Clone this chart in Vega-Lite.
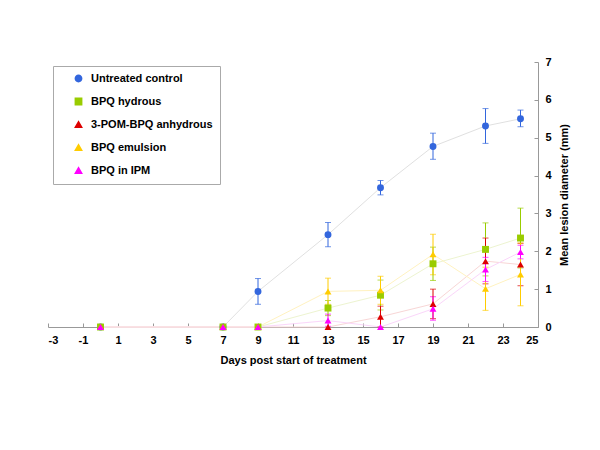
{
  "$schema": "https://vega.github.io/schema/vega-lite/v6.json",
  "autosize": {"type": "none"},
  "width": 490,
  "height": 265,
  "padding": {"left": 48, "top": 62, "right": 62, "bottom": 123},
  "background": "white",
  "config": {
    "font": "Liberation Sans",
    "view": {"stroke": null},
    "axis": {
      "domainColor": "#999999",
      "tickColor": "#999999",
      "grid": false,
      "labelFont": "Liberation Sans",
      "labelFontWeight": "bold",
      "labelFontSize": 11,
      "labelColor": "black",
      "labelOverlap": false,
      "titleFont": "Liberation Sans",
      "titleFontWeight": "bold",
      "titleFontSize": 11,
      "titleColor": "black"
    },
    "legend": {
      "orient": "none",
      "legendX": 5,
      "legendY": 4,
      "strokeColor": "#aaaaaa",
      "fillColor": "white",
      "padding": 7,
      "symbolOffset": 13,
      "labelOffset": 7,
      "labelFont": "Liberation Sans",
      "labelFontWeight": "bold",
      "labelFontSize": 11,
      "labelColor": "black",
      "rowPadding": 10,
      "symbolSize": 40,
      "symbolOpacity": 1,
      "labelLimit": 200
    }
  },
  "data": {
    "values": [
      {"series": "Untreated control", "day": 0, "mean": 0},
      {"series": "Untreated control", "day": 7, "mean": 0},
      {"series": "Untreated control", "day": 9, "mean": 0.94, "lo": 0.6, "hi": 1.28},
      {"series": "Untreated control", "day": 13, "mean": 2.44, "lo": 2.12, "hi": 2.76},
      {"series": "Untreated control", "day": 16, "mean": 3.68, "lo": 3.49, "hi": 3.87},
      {"series": "Untreated control", "day": 19, "mean": 4.77, "lo": 4.43, "hi": 5.12},
      {"series": "Untreated control", "day": 22, "mean": 5.31, "lo": 4.85, "hi": 5.77},
      {"series": "Untreated control", "day": 24, "mean": 5.5, "lo": 5.29, "hi": 5.73},
      {"series": "BPQ hydrous", "day": 0, "mean": 0},
      {"series": "BPQ hydrous", "day": 7, "mean": 0},
      {"series": "BPQ hydrous", "day": 9, "mean": 0},
      {"series": "BPQ hydrous", "day": 13, "mean": 0.5, "lo": 0.3, "hi": 0.7},
      {"series": "BPQ hydrous", "day": 16, "mean": 0.84, "lo": 0.45, "hi": 1.24},
      {"series": "BPQ hydrous", "day": 19, "mean": 1.67, "lo": 1.23, "hi": 2.11},
      {"series": "BPQ hydrous", "day": 22, "mean": 2.05, "lo": 1.35, "hi": 2.75},
      {"series": "BPQ hydrous", "day": 24, "mean": 2.35, "lo": 1.56, "hi": 3.14},
      {"series": "3-POM-BPQ anhydrous", "day": 0, "mean": 0},
      {"series": "3-POM-BPQ anhydrous", "day": 7, "mean": 0},
      {"series": "3-POM-BPQ anhydrous", "day": 9, "mean": 0},
      {"series": "3-POM-BPQ anhydrous", "day": 13, "mean": 0},
      {"series": "3-POM-BPQ anhydrous", "day": 16, "mean": 0.27, "lo": 0, "hi": 0.55},
      {"series": "3-POM-BPQ anhydrous", "day": 19, "mean": 0.61, "lo": 0.22, "hi": 1.0},
      {"series": "3-POM-BPQ anhydrous", "day": 22, "mean": 1.74, "lo": 1.14, "hi": 2.35},
      {"series": "3-POM-BPQ anhydrous", "day": 24, "mean": 1.65, "lo": 1.09, "hi": 2.21},
      {"series": "BPQ emulsion", "day": 0, "mean": 0},
      {"series": "BPQ emulsion", "day": 7, "mean": 0},
      {"series": "BPQ emulsion", "day": 9, "mean": 0},
      {"series": "BPQ emulsion", "day": 13, "mean": 0.94, "lo": 0.6, "hi": 1.29},
      {"series": "BPQ emulsion", "day": 16, "mean": 0.97, "lo": 0.6, "hi": 1.34},
      {"series": "BPQ emulsion", "day": 19, "mean": 1.92, "lo": 1.38, "hi": 2.45},
      {"series": "BPQ emulsion", "day": 22, "mean": 1.01, "lo": 0.44, "hi": 1.58},
      {"series": "BPQ emulsion", "day": 24, "mean": 1.39, "lo": 0.56, "hi": 2.22},
      {"series": "BPQ in IPM", "day": 0, "mean": 0},
      {"series": "BPQ in IPM", "day": 7, "mean": 0},
      {"series": "BPQ in IPM", "day": 9, "mean": 0},
      {"series": "BPQ in IPM", "day": 13, "mean": 0.17, "lo": 0.02, "hi": 0.34},
      {"series": "BPQ in IPM", "day": 16, "mean": 0},
      {"series": "BPQ in IPM", "day": 19, "mean": 0.48, "lo": 0.18, "hi": 0.8},
      {"series": "BPQ in IPM", "day": 22, "mean": 1.52, "lo": 1.2, "hi": 1.84},
      {"series": "BPQ in IPM", "day": 24, "mean": 1.98, "lo": 1.8, "hi": 2.16}
    ]
  },
  "encoding": {
    "x": {
      "field": "day",
      "type": "quantitative",
      "scale": {"domain": [-3, 25], "nice": false, "zero": false},
      "axis": {
        "title": "Days post start of treatment",
        "values": [-3, -1, 1, 3, 5, 7, 9, 11, 13, 15, 17, 19, 21, 23, 25],
        "labelExpr": "'' + datum.value",
        "tickSize": -4,
        "labelPadding": 11,
        "titlePadding": 9
      }
    },
    "y": {
      "field": "mean",
      "type": "quantitative",
      "scale": {"domain": [0, 7], "nice": false},
      "axis": {
        "orient": "right",
        "title": "Mean lesion diameter (mm)",
        "titleAngle": 270,
        "values": [0, 1, 2, 3, 4, 5, 6, 7],
        "tickSize": -4,
        "labelPadding": 11,
        "titlePadding": 18
      }
    }
  },
  "layer": [
    {
      "mark": {"type": "line", "strokeWidth": 1},
      "encoding": {
        "detail": {"field": "series"},
        "color": {
          "field": "series",
          "type": "nominal",
          "legend": null,
          "scale": {
            "domain": ["Untreated control", "BPQ hydrous", "3-POM-BPQ anhydrous", "BPQ emulsion", "BPQ in IPM"],
            "range": ["#e0e0e0", "#edf4d0", "#f8d6d6", "#fff2c0", "#fad6fa"]
          }
        }
      }
    },
    {
      "encoding": {
        "color": {
          "field": "series",
          "type": "nominal",
          "title": null,
          "scale": {
            "domain": ["Untreated control", "BPQ hydrous", "3-POM-BPQ anhydrous", "BPQ emulsion", "BPQ in IPM"],
            "range": ["#3366dd", "#99cc00", "#dd0000", "#ffcc00", "#ff00ff"]
          }
        }
      },
      "layer": [
        {
          "transform": [{"filter": "datum.hi != null"}],
          "mark": {"type": "errorbar", "ticks": {"size": 6}, "thickness": 1},
          "encoding": {
            "y": {"field": "lo", "type": "quantitative"},
            "y2": {"field": "hi"}
          }
        },
        {
          "mark": {"type": "point", "filled": true, "opacity": 1, "size": 48},
          "encoding": {
            "shape": {
              "field": "series",
              "type": "nominal",
              "title": null,
              "scale": {
                "domain": ["Untreated control", "BPQ hydrous", "3-POM-BPQ anhydrous", "BPQ emulsion", "BPQ in IPM"],
                "range": ["circle", "square", "triangle-up", "triangle-up", "triangle-up"]
              }
            }
          }
        }
      ]
    }
  ],
  "resolve": {
    "scale": {"color": "independent", "shape": "independent"},
    "legend": {"color": "independent", "shape": "independent"}
  }
}
